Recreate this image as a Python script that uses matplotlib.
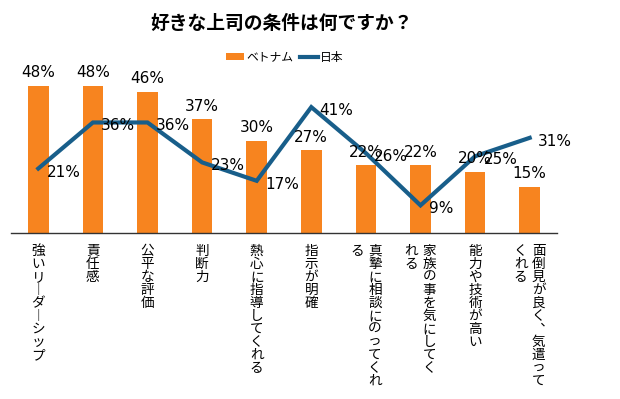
import numpy as np
import matplotlib
matplotlib.use("Agg")
import matplotlib.pyplot as plt

plt.rcParams['font.family'] = ['Noto Sans CJK JP', 'DejaVu Sans']

title = '好きな上司の条件は何ですか？'
categories = ['強いリーダーシップ', '責任感', '公平な評価', '判断力', '熱心に指導してくれる',
              '指示が明確', '真摯に相談にのってくれ\nる', '家族の事を気にしてく\nれる',
              '能力や技術が高い', '面倒見が良く、気遣って\nくれる']
vietnam = [48, 48, 46, 37, 30, 27, 22, 22, 20, 15]
japan = [21, 36, 36, 23, 17, 41, 26, 9, 25, 31]

orange = '#F7841F'
navy = '#185E8A'

fig = plt.figure(figsize=(6.2, 3.99), dpi=100)
ax = fig.add_axes([11 / 620, 166 / 399, 546 / 620, 153.5 / 399])

x = np.arange(len(categories))
bars = ax.bar(x, vietnam, 0.38, color=orange, label='ベトナム', zorder=2)
line, = ax.plot(x, japan, color=navy, lw=3, label='日本', zorder=3, solid_joinstyle='miter')

for i, v in enumerate(vietnam):
    ax.annotate(f'{v}%', (i, v), xytext=(0, 4), textcoords='offset points',
                ha='center', va='bottom', fontsize=11, family='DejaVu Sans')
for i, v in enumerate(japan):
    ax.annotate(f'{v}%', (i, v), xytext=(6, -2.5), textcoords='offset points',
                ha='left', va='center', fontsize=11, family='DejaVu Sans', zorder=4)

# vertical (tategaki) category labels, lines run right to left
vert = {'ー': '︱', '、': '︑'}
px = 72 / 100
for i, lab in enumerate(categories):
    lines = lab.split('\n')
    n = len(lines)
    for j, ln in enumerate(lines):
        dx = ((n - 1) / 2 - j) * 18 * px
        for k, ch in enumerate(ln):
            ax.annotate(vert.get(ch, ch), (i, 0), xytext=(dx, -(11 + 13 * k) * px),
                        textcoords='offset points', ha='center', va='top',
                        fontsize=9.8, annotation_clip=False)

ax.set_xlim(-0.5, 9.5)
ax.set_ylim(0, 50)
for s in ['top', 'right', 'left']:
    ax.spines[s].set_visible(False)
ax.spines['bottom'].set_color('#333333')
ax.spines['bottom'].set_linewidth(1)
ax.set_xticks([])
ax.set_yticks([])

fig.text(282 / 620, 1 - 23 / 399, title, ha='center', va='center', fontsize=13.5,
         weight='bold')
fig.legend([bars, line], ['ベトナム', '日本'], loc='center',
           bbox_to_anchor=(285 / 620, 1 - 57 / 399), ncol=2, frameon=False,
           fontsize=8.5, handlelength=1.5, handleheight=0.5, columnspacing=0.6,
           handletextpad=0.2)

fig.savefig('out.png', dpi=100, facecolor='white')
